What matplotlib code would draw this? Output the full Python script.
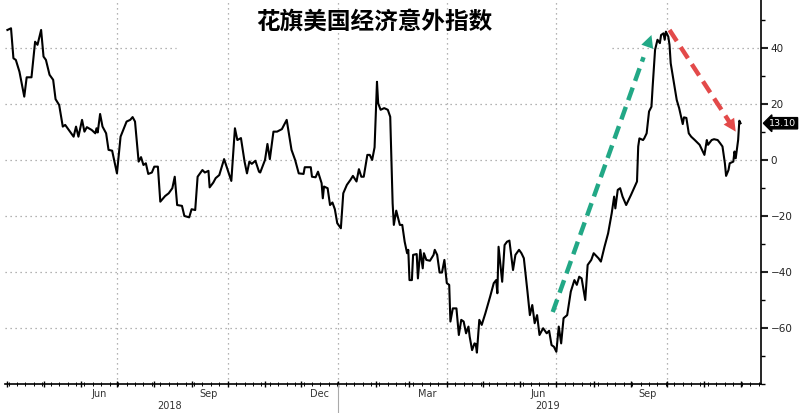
import datetime as dt

import matplotlib
matplotlib.use('Agg')
import matplotlib.pyplot as plt
import matplotlib.dates as mdates
import matplotlib.transforms as mtransforms
from matplotlib.ticker import MultipleLocator, NullFormatter

plt.rcParams['font.family'] = ['DejaVu Sans', 'Noto Sans CJK SC']

TITLE = '花旗美国经济意外指数'
START = dt.date(2018, 4, 1)

# days after START, index value
days = [
    0, 3, 5, 7, 10, 14, 16, 20, 23, 25, 28, 30, 32, 35, 38, 40, 43, 46, 48,
    51, 55, 57, 59, 62, 64, 66, 70, 73, 74, 75, 77, 79, 82, 84, 87, 91, 94,
    99, 102, 104, 106, 109, 111, 113, 115, 117, 120, 122, 125, 127, 131,
    134, 137, 139, 141, 145, 147, 151, 153, 156, 158, 162, 164, 167, 168,
    171, 173, 176, 180, 183, 186, 189, 191, 194, 197, 199, 201, 203, 206,
    209, 210, 214, 216, 218, 221, 224, 228, 232, 234, 236, 239, 242, 246,
    247, 252, 253, 256, 258, 261, 262, 263, 266, 268, 270, 272, 274, 277,
    279, 282, 285, 287, 290, 292, 294, 296, 299, 301, 303, 305, 307, 308,
    310, 313, 316, 318, 320, 321, 323, 326, 328, 330, 332, 333, 334, 336,
    337, 340, 341, 343, 345, 346, 348, 351, 354, 355, 357, 359, 361, 363,
    365, 367, 368, 370, 373, 375, 377, 379, 381, 383, 384, 386, 388, 389,
    390, 392, 394, 397, 401, 404, 406, 407, 408, 411, 413, 415, 417, 420,
    422, 425, 427, 429, 432, 434, 436, 438, 440, 442, 445, 448, 450, 452,
    454, 456, 458, 460, 462, 465, 468, 471, 473, 475, 477, 480, 482, 485,
    487, 491, 493, 496, 499, 502, 504, 505, 507, 509, 511, 514, 518, 523,
    524, 525, 528, 529, 531, 533, 535, 536, 538, 539, 540, 542, 543, 545,
    546, 547, 549, 550, 551, 553, 556, 558, 561, 562, 564, 566, 568, 571,
    575, 579, 581, 582, 585, 587, 590, 592, 594, 596, 597, 599, 600, 603,
    604, 605, 607, 608, 609,
]
values = [
    46.4, 47.0, 36.3, 35.7, 31.5, 22.6, 29.5, 29.5, 42.2, 41.1, 46.4, 36.9,
    35.7, 30.4, 28.6, 21.7, 19.6, 11.9, 12.5, 10.7, 8.3, 11.9, 8.3, 14.3,
    10.1, 11.7, 10.7, 9.5, 11.3, 9.8, 16.4, 11.9, 9.5, 3.6, 3.3, -4.8, 8.3,
    13.7, 14.3, 15.3, 13.7, -0.6, 1.0, -1.8, -1.2, -5.0, -4.5, -2.4, -2.4,
    -14.9, -12.9, -11.9, -10.1, -6.0, -16.1, -16.4, -20.0, -20.5, -17.6,
    -17.9, -6.0, -3.6, -4.5, -3.9, -9.8, -8.1, -6.5, -5.4, 0.3, -3.6, -7.5,
    11.3, 7.1, 7.8, -0.6, -4.8, -0.6, -1.4, -0.3, -4.2, -4.5, 0.0, 5.7, 0.3,
    10.1, 10.1, 11.0, 14.3, 8.9, 3.6, 0.0, -4.8, -5.0, -2.6, -2.6, -6.0,
    -6.2, -4.2, -8.3, -13.7, -9.5, -10.1, -16.1, -15.2, -17.6, -22.6, -24.4,
    -11.9, -8.9, -7.1, -5.7, -7.7, -3.3, -6.0, -6.0, 1.8, 1.8, 0.0, 4.5,
    27.9, 20.2, 17.9, 18.5, 17.9, 15.4, -15.5, -23.2, -18.1, -23.2, -23.2,
    -29.2, -33.3, -32.1, -42.9, -42.9, -33.9, -33.6, -42.3, -32.1, -38.7,
    -33.3, -35.7, -36.0, -33.9, -32.1, -33.9, -40.2, -40.2, -35.7, -44.0,
    -44.6, -57.7, -53.0, -53.0, -62.5, -57.1, -57.7, -61.9, -59.5, -63.1,
    -67.9, -65.5, -65.7, -68.8, -57.1, -58.9, -54.8, -48.8, -44.0, -42.9,
    -47.6, -31.0, -43.5, -30.4, -29.2, -28.8, -39.3, -33.9, -32.1, -33.3,
    -35.1, -47.0, -55.4, -51.8, -58.3, -55.4, -62.5, -60.1, -61.9, -61.0,
    -66.1, -66.7, -68.5, -59.5, -65.5, -56.5, -55.4, -47.0, -42.9, -44.6,
    -41.7, -42.3, -50.0, -37.5, -35.7, -33.3, -35.1, -36.3, -31.0, -26.2,
    -19.0, -13.1, -17.3, -10.7, -10.1, -13.1, -16.1, -12.5, -7.7, 4.8, 7.7,
    7.1, 7.7, 9.5, 17.3, 19.0, 26.2, 39.3, 41.1, 42.9, 41.7, 44.6, 45.2,
    42.9, 45.8, 44.0, 41.1, 34.5, 29.2, 21.4, 18.5, 12.8, 15.2, 15.0, 9.5,
    8.3, 7.1, 5.4, 1.8, 7.1, 5.4, 7.1, 7.4, 7.1, 6.0, 4.8, -1.2, -5.7, -3.6,
    -1.2, -0.6, 3.0, 0.6, 7.1, 14.0, 13.1,
]
last_label = '13.10'

# trend arrows: (start day, start value, end day, end value)
up_arrow = (453, -54.3, 535, 44.6)
down_arrow = (550, 46.4, 605, 10.1)

month_labels = ['Jun', 'Sep', 'Dec', 'Mar', 'Jun', 'Sep']
month_label_dates = [dt.date(2018, 6, 16), dt.date(2018, 9, 15),
                     dt.date(2018, 12, 16), dt.date(2019, 3, 16),
                     dt.date(2019, 6, 16), dt.date(2019, 9, 15)]
year_labels = ['2018', '2019']
year_label_dates = [dt.date(2018, 8, 14), dt.date(2019, 6, 24)]
quarter_lines = [dt.date(2018, 7, 1), dt.date(2018, 10, 1),
                 dt.date(2019, 1, 1), dt.date(2019, 4, 1),
                 dt.date(2019, 7, 1), dt.date(2019, 10, 1)]


def to_date(d):
    return START + dt.timedelta(days=d)


dates = [to_date(d) for d in days]

fig = plt.figure(figsize=(8, 4.13), dpi=100)
ax = fig.add_axes([5 / 800, 29 / 413, 756 / 800, 384 / 413])

GRID = dict(color='#9a9a9a', linestyle=(0, (1, 3)), linewidth=0.9, zorder=1)
for q in quarter_lines:
    ax.axvline(q, **GRID)
for yv in [20, 0, -20, -40, -60]:
    ax.axhline(yv, **GRID)
# the 40 line is broken where the title sits
ax.axhline(40, xmax=0.226, **GRID)
ax.axhline(40, xmin=0.803, **GRID)

ax.plot(dates, values, color='black', linewidth=1.5, zorder=3)

for (d0, v0, d1, v1), col in [(up_arrow, '#22a886'), (down_arrow, '#e34a4a')]:
    x0, x1 = mdates.date2num(to_date(d0)), mdates.date2num(to_date(d1))
    frac = 0.92
    xm, vm = x0 + (x1 - x0) * frac, v0 + (v1 - v0) * frac
    ax.plot([x0, xm], [v0, vm], color=col, linewidth=3.2,
            linestyle=(0, (3, 1.6)), solid_capstyle='butt', zorder=4)
    ax.annotate('', xy=(x1, v1), xytext=(xm, vm),
                arrowprops=dict(arrowstyle='-|>,head_width=0.45,head_length=0.9',
                                color=col, lw=0, shrinkA=0, shrinkB=0),
                zorder=4)

ax.set_xlim(to_date(-2), to_date(626))
ax.set_ylim(-80, 57.1)

for side in ['top', 'left']:
    ax.spines[side].set_visible(False)
ax.spines['right'].set_linewidth(1.2)
ax.spines['bottom'].set_linewidth(1.2)

ax.yaxis.tick_right()
ax.yaxis.set_major_locator(MultipleLocator(20))
ax.yaxis.set_minor_locator(MultipleLocator(10))
ax.set_yticks([40, 20, 0, -20, -40, -60])
ax.tick_params(axis='y', which='major', direction='out', length=5, width=1.5,
               labelsize=7.5, pad=2, colors='#222222')
ax.tick_params(axis='y', which='minor', direction='out', length=3, width=1)

ax.xaxis.set_major_locator(mdates.MonthLocator())
ax.xaxis.set_minor_locator(mdates.WeekdayLocator(byweekday=0))
ax.xaxis.set_major_formatter(NullFormatter())
ax.tick_params(axis='x', which='major', direction='inout', length=5, width=1)
ax.tick_params(axis='x', which='minor', direction='inout', length=3, width=0.7)

trans = mtransforms.blended_transform_factory(ax.transData, ax.transAxes)
for lab, d in zip(month_labels, month_label_dates):
    ax.text(d, -0.026, lab, transform=trans, ha='center', va='center',
            fontsize=7, color='#333333')
for lab, d in zip(year_labels, year_label_dates):
    ax.text(d, -0.057, lab, transform=trans, ha='center', va='center',
            fontsize=7, color='#333333')
ax.plot([dt.date(2019, 1, 1)] * 2, [0, -0.08], transform=trans, color='#aaaaaa',
        linewidth=0.8, clip_on=False)

ax.annotate(last_label, xy=(1.0, values[-1]), xycoords=('axes fraction', 'data'),
            xytext=(6, 0), textcoords='offset points', ha='left', va='center',
            fontsize=6.8, color='white',
            bbox=dict(boxstyle='larrow,pad=0.12', fc='black', ec='black'))

fig.text((374) / 800, 1 - 22 / 413, TITLE, ha='center', va='center',
         fontsize=17, fontweight='bold', family=['Noto Sans CJK SC'],
         color='black')

fig.savefig('out.png', dpi=100)
